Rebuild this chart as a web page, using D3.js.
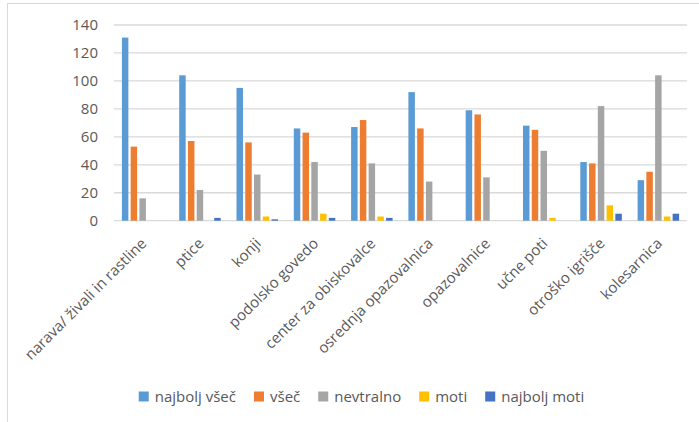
<!DOCTYPE html>
<html>
<head>
<meta charset="utf-8">
<script src="https://cdn.jsdelivr.net/npm/d3@7/dist/d3.min.js"></script>
<style>
  html, body { margin: 0; padding: 0; background: #fff; }
  svg { display: block; font-family: "Open Sans", sans-serif; }
</style>
</head>
<body>
<svg id="chart" width="699" height="422"></svg>
<script>
// Survey answers per site feature
const categories = [
  "narava/ živali in rastline", "ptice", "konji", "podolsko govedo",
  "center za obiskovalce", "osrednja opazovalnica", "opazovalnice",
  "učne poti", "otroško igrišče", "kolesarnica"
];
const seriesNames = ["najbolj všeč", "všeč", "nevtralno", "moti", "najbolj moti"];
const najboljVsec = [131, 104, 95, 66, 67, 92, 79, 68, 42, 29];
const vsec        = [53, 57, 56, 63, 72, 66, 76, 65, 41, 35];
const nevtralno   = [16, 22, 33, 42, 41, 28, 31, 50, 82, 104];
const moti        = [0, 0, 3, 5, 3, 0, 0, 2, 11, 3];
const najboljMoti = [0, 2, 1, 2, 2, 0, 0, 0, 5, 5];
const yTicks = [0, 20, 40, 60, 80, 100, 120, 140];
const colors = ["#5B9BD5", "#ED7D31", "#A5A5A5", "#FFC000", "#4472C4"];

const seriesValues = [najboljVsec, vsec, nevtralno, moti, najboljMoti];
const rows = categories.map((c, i) => ({
  cat: c,
  vals: seriesNames.map((s, j) => ({ key: s, value: seriesValues[j][i] }))
}));

const svg = d3.select("#chart");
const textColor = "#595959";
const fontSize = 15;

// outer chart frame
svg.append("rect")
  .attr("x", 7.5).attr("y", 3.5)
  .attr("width", 720).attr("height", 440)
  .attr("fill", "none").attr("stroke", "#D9D9D9").attr("stroke-width", 1);

const plot = { left: 114, right: 687, top: 25, bottom: 220.7 };

const x0 = d3.scaleBand()
  .domain(categories)
  .range([plot.left, plot.right])
  .paddingInner(0.236)
  .paddingOuter(0.118);

const x1 = d3.scaleBand()
  .domain(seriesNames)
  .range([0, x0.bandwidth()])
  .paddingInner(0.26)
  .paddingOuter(0.13);

const y = d3.scaleLinear().domain([0, 140]).range([plot.bottom, plot.top]);

// gridlines
svg.append("g")
  .selectAll("line")
  .data(yTicks)
  .join("line")
  .attr("x1", plot.left).attr("x2", plot.right)
  .attr("y1", d => y(d)).attr("y2", d => y(d))
  .attr("stroke", "#D9D9D9").attr("stroke-width", 1.3);

// y axis labels
const yAxis = d3.axisLeft(y).tickValues(yTicks).tickSize(0).tickPadding(16);
svg.append("g")
  .attr("transform", `translate(${plot.left},0)`)
  .call(yAxis)
  .call(g => g.select(".domain").remove())
  .call(g => g.selectAll("text")
    .attr("fill", textColor)
    .style("font-size", fontSize + "px")
    .style("font-family", "'Open Sans', sans-serif"));

// bars
const groups = svg.append("g")
  .selectAll("g")
  .data(rows)
  .join("g")
  .attr("transform", d => `translate(${x0(d.cat)},0)`);

groups.selectAll("rect")
  .data(d => d.vals)
  .join("rect")
  .attr("x", d => x1(d.key))
  .attr("width", x1.bandwidth())
  .attr("y", d => y(d.value))
  .attr("height", d => y(0) - y(d.value))
  .attr("fill", (d, i) => colors[i]);

// category labels, rotated
svg.append("g")
  .selectAll("text")
  .data(categories)
  .join("text")
  .attr("transform", d => `translate(${x0(d) + x0.bandwidth() / 2 + 1},${plot.bottom + 20}) rotate(-45)`)
  .attr("text-anchor", "end")
  .attr("dy", "0.35em")
  .attr("fill", textColor)
  .style("font-size", fontSize + "px")
  .text(d => d);

// legend
const legend = svg.append("g");
const items = legend.selectAll("g")
  .data(seriesNames)
  .join("g");
items.append("rect")
  .attr("width", 10).attr("height", 10)
  .attr("y", -5)
  .attr("fill", (d, i) => colors[i]);
items.append("text")
  .attr("x", 16)
  .attr("dy", "0.35em")
  .attr("fill", textColor)
  .style("font-size", fontSize + "px")
  .text(d => d);

const widths = [];
items.each(function () {
  widths.push(16 + this.querySelector("text").getComputedTextLength());
});
const gap = 18;
const total = d3.sum(widths) + gap * (widths.length - 1);
let cursor = 361.5 - total / 2;
items.attr("transform", (d, i) => {
  const t = `translate(${cursor},396.5)`;
  cursor += widths[i] + gap;
  return t;
});
</script>
</body>
</html>
